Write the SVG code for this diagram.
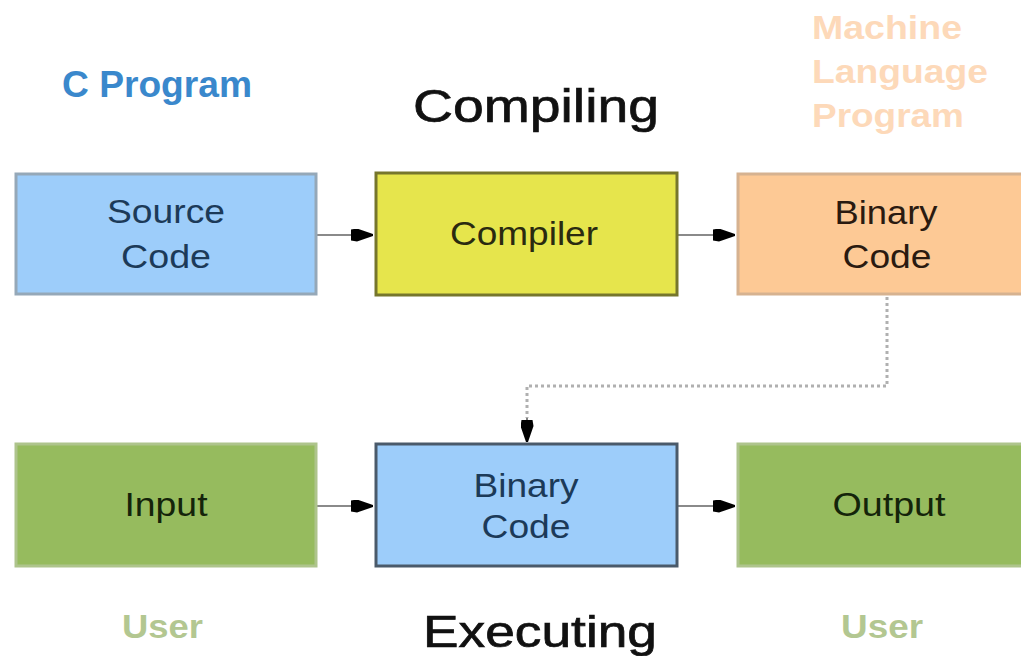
<svg xmlns="http://www.w3.org/2000/svg" width="1021" height="656" viewBox="0 0 1021 656">
<style>
.box{stroke-width:3}
.lbl{font-family:"Liberation Sans",Arial,sans-serif;font-size:34px;text-anchor:middle}
.title{font-family:"Liberation Sans",Arial,sans-serif;fill:#111;stroke:#111;stroke-width:0.7}
.cap{font-family:"Liberation Sans",Arial,sans-serif;font-weight:bold}
.conn{stroke:#8a8a8a;stroke-width:2;fill:none}
.dot{stroke:#b0b0b0;stroke-width:3;stroke-dasharray:3 3;fill:none}
</style>
<defs>
<marker id="ah2" markerWidth="22" markerHeight="13" refX="22" refY="6.5" orient="auto" markerUnits="userSpaceOnUse" viewBox="0 0 22 13">
<path d="M0,1 L6,0 L22,5.5 L22,7.5 L6,13 L0,12 z" fill="#000"/>
</marker>
</defs>
<rect width="1021" height="656" fill="#fff"/>
<text class="cap" x="62" y="97" font-size="37" fill="#3a88cc" textLength="190" lengthAdjust="spacingAndGlyphs">C Program</text>
<text class="title" x="413" y="122" font-size="47" textLength="246" lengthAdjust="spacingAndGlyphs">Compiling</text>
<g class="cap" font-size="33" fill="#fdd9b9">
<text x="812" y="39" textLength="150" lengthAdjust="spacingAndGlyphs">Machine</text>
<text x="812" y="83" textLength="176" lengthAdjust="spacingAndGlyphs">Language</text>
<text x="812" y="127" textLength="152" lengthAdjust="spacingAndGlyphs">Program</text>
</g>
<g id="connectors">
<line class="conn" x1="317" y1="235" x2="373" y2="235" marker-end="url(#ah2)"/>
<line class="conn" x1="678" y1="235" x2="735" y2="235" marker-end="url(#ah2)"/>
<polyline class="dot" points="887,297 887,386 527,386 527,418"/>
<line x1="527" y1="418" x2="527" y2="442" stroke="#000" stroke-width="1" marker-end="url(#ah2)"/>
<line class="conn" x1="317" y1="506" x2="373" y2="506" marker-end="url(#ah2)"/>
<line class="conn" x1="678" y1="506" x2="735" y2="506" marker-end="url(#ah2)"/>
</g>
<g id="source">
<rect class="box" x="16" y="174" width="300" height="120" fill="#9dcdfa" stroke="#95a8b8"/>
<text class="lbl" x="166" y="223" fill="#1c3a58" textLength="118" lengthAdjust="spacingAndGlyphs">Source</text>
<text class="lbl" x="166" y="268" fill="#1c3a58" textLength="90" lengthAdjust="spacingAndGlyphs">Code</text>
</g>
<g id="compiler">
<rect class="box" x="376" y="173" width="301" height="122" fill="#e6e54c" stroke="#76762c"/>
<text class="lbl" x="524" y="245" fill="#2a2a10" textLength="148" lengthAdjust="spacingAndGlyphs">Compiler</text>
</g>
<g id="binary-top">
<rect class="box" x="738" y="174" width="290" height="120" fill="#fdc995" stroke="#d6b290"/>
<text class="lbl" x="886" y="224" fill="#2a1a10" textLength="103" lengthAdjust="spacingAndGlyphs">Binary</text>
<text class="lbl" x="887" y="268" fill="#2a1a10" textLength="89" lengthAdjust="spacingAndGlyphs">Code</text>
</g>
<g id="input">
<rect class="box" x="16" y="444" width="300" height="122" fill="#96bb5e" stroke="#aec48c"/>
<text class="lbl" x="166" y="516" fill="#14240a" textLength="83" lengthAdjust="spacingAndGlyphs">Input</text>
</g>
<g id="binary-bottom">
<rect class="box" x="376" y="444" width="301" height="122" fill="#9dcdfa" stroke="#4a5a6a"/>
<text class="lbl" x="526" y="497" fill="#1c3a58" textLength="105" lengthAdjust="spacingAndGlyphs">Binary</text>
<text class="lbl" x="526" y="538" fill="#1c3a58" textLength="89" lengthAdjust="spacingAndGlyphs">Code</text>
</g>
<g id="output">
<rect class="box" x="738" y="444" width="290" height="122" fill="#96bb5e" stroke="#aec48c"/>
<text class="lbl" x="889" y="516" fill="#14240a" textLength="113" lengthAdjust="spacingAndGlyphs">Output</text>
</g>
<text class="cap" x="122" y="638" font-size="34" fill="#b3c791" textLength="81" lengthAdjust="spacingAndGlyphs">User</text>
<text class="cap" x="841" y="638" font-size="34" fill="#b3c791" textLength="82" lengthAdjust="spacingAndGlyphs">User</text>
<text class="title" x="423" y="647" font-size="45" textLength="234" lengthAdjust="spacingAndGlyphs">Executing</text>
</svg>
